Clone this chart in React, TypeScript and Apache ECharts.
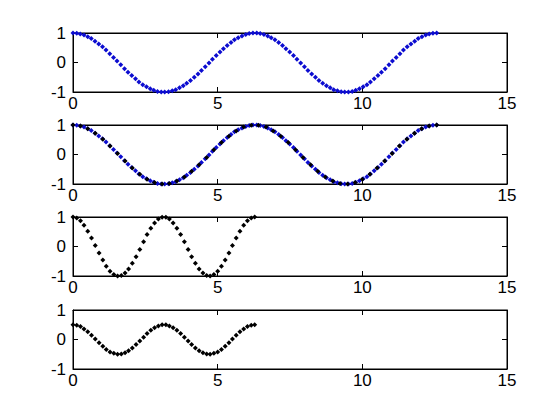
import React, { useEffect, useRef } from "react";
import * as echarts from "echarts";

// Subplot 1 & 2 (blue): 100 samples over 0..4π
const xBlue = [
  0, 0.13, 0.25, 0.38, 0.51, 0.63, 0.76, 0.89, 1.02, 1.14,
  1.27, 1.4, 1.52, 1.65, 1.78, 1.9, 2.03, 2.16, 2.28, 2.41,
  2.54, 2.67, 2.79, 2.92, 3.05, 3.17, 3.3, 3.43, 3.55, 3.68,
  3.81, 3.93, 4.06, 4.19, 4.32, 4.44, 4.57, 4.7, 4.82, 4.95,
  5.08, 5.2, 5.33, 5.46, 5.58, 5.71, 5.84, 5.97, 6.09, 6.22,
  6.35, 6.47, 6.6, 6.73, 6.85, 6.98, 7.11, 7.24, 7.36, 7.49,
  7.62, 7.74, 7.87, 8.0, 8.12, 8.25, 8.38, 8.5, 8.63, 8.76,
  8.89, 9.01, 9.14, 9.27, 9.39, 9.52, 9.65, 9.77, 9.9, 10.03,
  10.16, 10.28, 10.41, 10.54, 10.66, 10.79, 10.92, 11.04, 11.17, 11.3,
  11.42, 11.55, 11.68, 11.81, 11.93, 12.06, 12.19, 12.31, 12.44, 12.57,
];
const yBlue = [
  1.0, 0.99, 0.97, 0.93, 0.87, 0.81, 0.72, 0.63, 0.53, 0.42,
  0.3, 0.17, 0.05, -0.08, -0.21, -0.33, -0.44, -0.55, -0.66, -0.75,
  -0.82, -0.89, -0.94, -0.98, -1.0, -1.0, -0.99, -0.96, -0.92, -0.86,
  -0.79, -0.7, -0.61, -0.5, -0.39, -0.27, -0.14, -0.02, 0.11, 0.24,
  0.36, 0.47, 0.58, 0.68, 0.77, 0.84, 0.9, 0.95, 0.98, 1.0,
  1.0, 0.98, 0.95, 0.9, 0.84, 0.77, 0.68, 0.58, 0.47, 0.36,
  0.24, 0.11, -0.02, -0.14, -0.27, -0.39, -0.5, -0.61, -0.7, -0.79,
  -0.86, -0.92, -0.96, -0.99, -1.0, -1.0, -0.98, -0.94, -0.89, -0.82,
  -0.75, -0.66, -0.55, -0.44, -0.33, -0.21, -0.08, 0.05, 0.17, 0.3,
  0.42, 0.53, 0.63, 0.72, 0.81, 0.87, 0.93, 0.97, 0.99, 1.0,
];

// Subplot 2 (black): 50 samples over 0..4π
const xBlack2 = [
  0, 0.26, 0.51, 0.77, 1.03, 1.28, 1.54, 1.8, 2.05, 2.31,
  2.56, 2.82, 3.08, 3.33, 3.59, 3.85, 4.1, 4.36, 4.62, 4.87,
  5.13, 5.39, 5.64, 5.9, 6.16, 6.41, 6.67, 6.92, 7.18, 7.44,
  7.69, 7.95, 8.21, 8.46, 8.72, 8.98, 9.23, 9.49, 9.75, 10.0,
  10.26, 10.51, 10.77, 11.03, 11.28, 11.54, 11.8, 12.05, 12.31, 12.57,
];
const yBlack2 = [
  1.0, 0.97, 0.87, 0.72, 0.52, 0.29, 0.03, -0.22, -0.46, -0.67,
  -0.84, -0.95, -1.0, -0.98, -0.9, -0.76, -0.57, -0.35, -0.1, 0.16,
  0.41, 0.62, 0.8, 0.93, 0.99, 0.99, 0.93, 0.8, 0.62, 0.41,
  0.16, -0.1, -0.35, -0.57, -0.76, -0.9, -0.98, -1.0, -0.95, -0.84,
  -0.67, -0.46, -0.22, 0.03, 0.29, 0.52, 0.72, 0.87, 0.97, 1.0,
];

// Subplots 3 & 4: 50 samples over 0..2π
const xShort = [
  0, 0.13, 0.26, 0.38, 0.51, 0.64, 0.77, 0.9, 1.03, 1.15,
  1.28, 1.41, 1.54, 1.67, 1.8, 1.92, 2.05, 2.18, 2.31, 2.44,
  2.56, 2.69, 2.82, 2.95, 3.08, 3.21, 3.33, 3.46, 3.59, 3.72,
  3.85, 3.98, 4.1, 4.23, 4.36, 4.49, 4.62, 4.74, 4.87, 5.0,
  5.13, 5.26, 5.39, 5.51, 5.64, 5.77, 5.9, 6.03, 6.16, 6.28,
];
const y3 = [
  1.0, 0.97, 0.87, 0.72, 0.52, 0.29, 0.03, -0.22, -0.46, -0.67,
  -0.84, -0.95, -1.0, -0.98, -0.9, -0.76, -0.57, -0.35, -0.1, 0.16,
  0.41, 0.62, 0.8, 0.93, 0.99, 0.99, 0.93, 0.8, 0.62, 0.41,
  0.16, -0.1, -0.35, -0.57, -0.76, -0.9, -0.98, -1.0, -0.95, -0.84,
  -0.67, -0.46, -0.22, 0.03, 0.29, 0.52, 0.72, 0.87, 0.97, 1.0,
];
const y4 = [
  0.5, 0.48, 0.44, 0.36, 0.26, 0.14, 0.02, -0.11, -0.23, -0.34,
  -0.42, -0.47, -0.5, -0.49, -0.45, -0.38, -0.29, -0.17, -0.05, 0.08,
  0.2, 0.31, 0.4, 0.46, 0.5, 0.5, 0.46, 0.4, 0.31, 0.2,
  0.08, -0.05, -0.17, -0.29, -0.38, -0.45, -0.49, -0.5, -0.47, -0.42,
  -0.34, -0.23, -0.11, 0.02, 0.14, 0.26, 0.36, 0.44, 0.48, 0.5,
];

const xTicks = [0, 5, 10, 15];
const yTicks = [-1, 0, 1];

const BLUE = "#0c0cd0";
const BLACK = "#000000";
const FONT = "Liberation Sans, Arial, Helvetica, sans-serif";

const zip = (xs: number[], ys: number[]) => xs.map((x, i) => [x, ys[i]]);

export default function App() {
  const ref = useRef<HTMLDivElement>(null);
  useEffect(() => {
    if (!ref.current) return;
    const chart = echarts.init(ref.current, undefined, { renderer: "svg" });
    const tops = [33, 125, 217, 310];
    const grids = tops.map((t) => ({
      left: 73,
      width: 434,
      top: t,
      height: 59,
      show: true,
      borderColor: "#000",
      borderWidth: 1,
      backgroundColor: "transparent",
    }));
    const xAxes: any[] = [];
    const yAxes: any[] = [];
    tops.forEach((_, g) => {
      const xBase = {
        type: "value",
        gridIndex: g,
        min: xTicks[0],
        max: xTicks[xTicks.length - 1],
        interval: xTicks[1] - xTicks[0],
        splitLine: { show: false },
        axisLine: { show: true, onZero: false, lineStyle: { color: "#000", width: 1 } },
        axisTick: { show: true, inside: true, length: 5, lineStyle: { color: "#000" } },
      };
      xAxes.push({
        ...xBase,
        position: "bottom",
        axisLabel: { show: true, color: "#000", fontSize: 17, fontFamily: FONT, margin: 3 },
      });
      xAxes.push({ ...xBase, position: "top", axisLabel: { show: false } });
      const yBase = {
        type: "value",
        gridIndex: g,
        min: yTicks[0],
        max: yTicks[yTicks.length - 1],
        interval: yTicks[1] - yTicks[0],
        splitLine: { show: false },
        axisLine: { show: true, onZero: false, lineStyle: { color: "#000", width: 1 } },
        axisTick: { show: true, inside: true, length: 5, lineStyle: { color: "#000" } },
      };
      yAxes.push({
        ...yBase,
        position: "left",
        axisLabel: { show: true, color: "#000", fontSize: 17, fontFamily: FONT, margin: 7 },
      });
      yAxes.push({ ...yBase, position: "right", axisLabel: { show: false } });
    });
    const mk = (g: number, data: number[][], color: string) => ({
      type: "scatter",
      xAxisIndex: g * 2,
      yAxisIndex: g * 2,
      data,
      symbol: "diamond",
      symbolSize: 5,
      itemStyle: { color, opacity: 1 },
      silent: true,
    });
    chart.setOption({
      animation: false,
      backgroundColor: "#ffffff",
      grid: grids,
      xAxis: xAxes,
      yAxis: yAxes,
      series: [
        mk(0, zip(xBlue, yBlue), BLUE),
        mk(1, zip(xBlue, yBlue), BLUE),
        mk(1, zip(xBlack2, yBlack2), BLACK),
        mk(2, zip(xShort, y3), BLACK),
        mk(3, zip(xShort, y4), BLACK),
      ],
    });
    return () => chart.dispose();
  }, []);
  return (
    <div
      ref={ref}
      style={{ position: "fixed", left: 0, top: 0, width: 560, height: 420, background: "#fff" }}
    />
  );
}
